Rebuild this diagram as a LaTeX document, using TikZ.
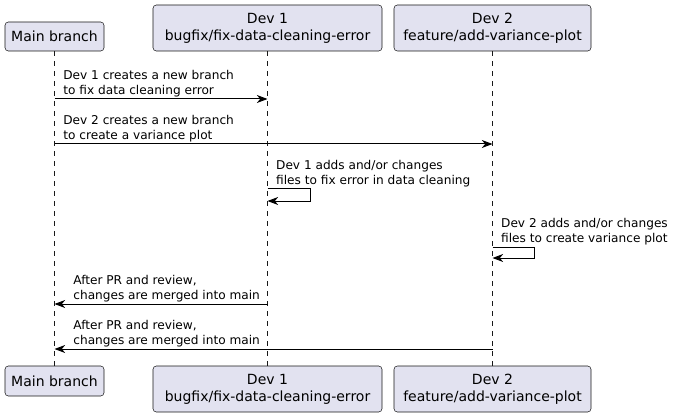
\documentclass[tikz,border=0pt]{standalone}
\usepackage{fontspec}
\setmainfont{DejaVu Sans}
\usetikzlibrary{arrows.meta}
\definecolor{partfill}{HTML}{E2E2F0}
\definecolor{partline}{HTML}{181818}

\begin{document}
\begin{tikzpicture}[x=0.75pt,y=-0.75pt,
    part/.style={draw=partline,fill=partfill,rounded corners=2.5pt,align=center,inner sep=0pt,
      font=\fontsize{10.5}{12.75}\selectfont},
    life/.style={draw=partline,line width=0.5pt,dash pattern=on 3.75pt off 3.75pt},
    msg/.style={draw=black,line width=0.75pt,-{Stealth[length=8pt,width=6pt,inset=2.5pt]}},
    msgtext/.style={anchor=south west,inner sep=0pt,align=left,yshift=1pt,
      font=\fontsize{9.1}{11.25}\selectfont}]
    \useasboundingbox (0,0) rectangle (678,417);
    \node[part,minimum width=74.25pt,minimum height=21.75pt] (maintop) at (54.5,36.5) {Main branch};
    \node[part,minimum width=171.75pt,minimum height=34.5pt] (devonetop) at (267.5,28) {Dev 1\\bugfix/fix-data-cleaning-error};
    \node[part,minimum width=147.75pt,minimum height=34.5pt] (devtwotop) at (492.5,28) {Dev 2\\feature/add-variance-plot};
    \node[part,minimum width=74.25pt,minimum height=22.5pt] (mainbot) at (54.5,381) {Main branch};
    \node[part,minimum width=171.75pt,minimum height=34.5pt] (devonebot) at (267.5,389) {Dev 1\\bugfix/fix-data-cleaning-error};
    \node[part,minimum width=147.75pt,minimum height=34.5pt] (devtwobot) at (492.5,389) {Dev 2\\feature/add-variance-plot};
    \foreach \p in {main,devone,devtwo}
    {
      \draw[life] (\p top.south) -- (\p bot.north);
    }
    \coordinate (newone) at (maintop.south |- 0,99);
    \coordinate (newoneend) at (devonetop.south |- 0,99);
    \coordinate (newtwo) at (maintop.south |- 0,144);
    \coordinate (newtwoend) at (devtwotop.south |- 0,144);
    \coordinate (editone) at (devonetop.south |- 0,189);
    \coordinate (editoneend) at (devonetop.south |- 0,201);
    \coordinate (edittwo) at (devtwotop.south |- 0,247);
    \coordinate (edittwoend) at (devtwotop.south |- 0,258);
    \coordinate (mergeone) at (devonetop.south |- 0,304);
    \coordinate (mergeoneend) at (maintop.south |- 0,304);
    \coordinate (mergetwo) at (devtwotop.south |- 0,349);
    \coordinate (mergetwoend) at (maintop.south |- 0,349);
    \draw[msg] (newone) -- (newoneend)
      node[msgtext,pos=0,xshift=6.3pt] {Dev 1 creates a new branch\\to fix data cleaning error};
    \draw[msg] (newtwo) -- (newtwoend)
      node[msgtext,pos=0,xshift=6.3pt] {Dev 2 creates a new branch\\to create a variance plot};
    \draw[msg] (editone) -- ++(43,0) -- ++(0,12) -- (editoneend);
    \node[msgtext,xshift=6.3pt] (editonetext) at (editone) {Dev 1 adds and/or changes\\files to fix error in data cleaning};
    \draw[msg] (edittwo) -- ++(42,0) -- ++(0,11) -- (edittwoend);
    \node[msgtext,xshift=6.3pt] (edittwotext) at (edittwo) {Dev 2 adds and/or changes\\files to create variance plot};
    \draw[msg] (mergeone) -- (mergeoneend)
      node[msgtext,pos=1,xshift=13.8pt] {After PR and review,\\changes are merged into main};
    \draw[msg] (mergetwo) -- (mergetwoend)
      node[msgtext,pos=1,xshift=13.8pt] {After PR and review,\\changes are merged into main};
  \end{tikzpicture}
\end{document}
